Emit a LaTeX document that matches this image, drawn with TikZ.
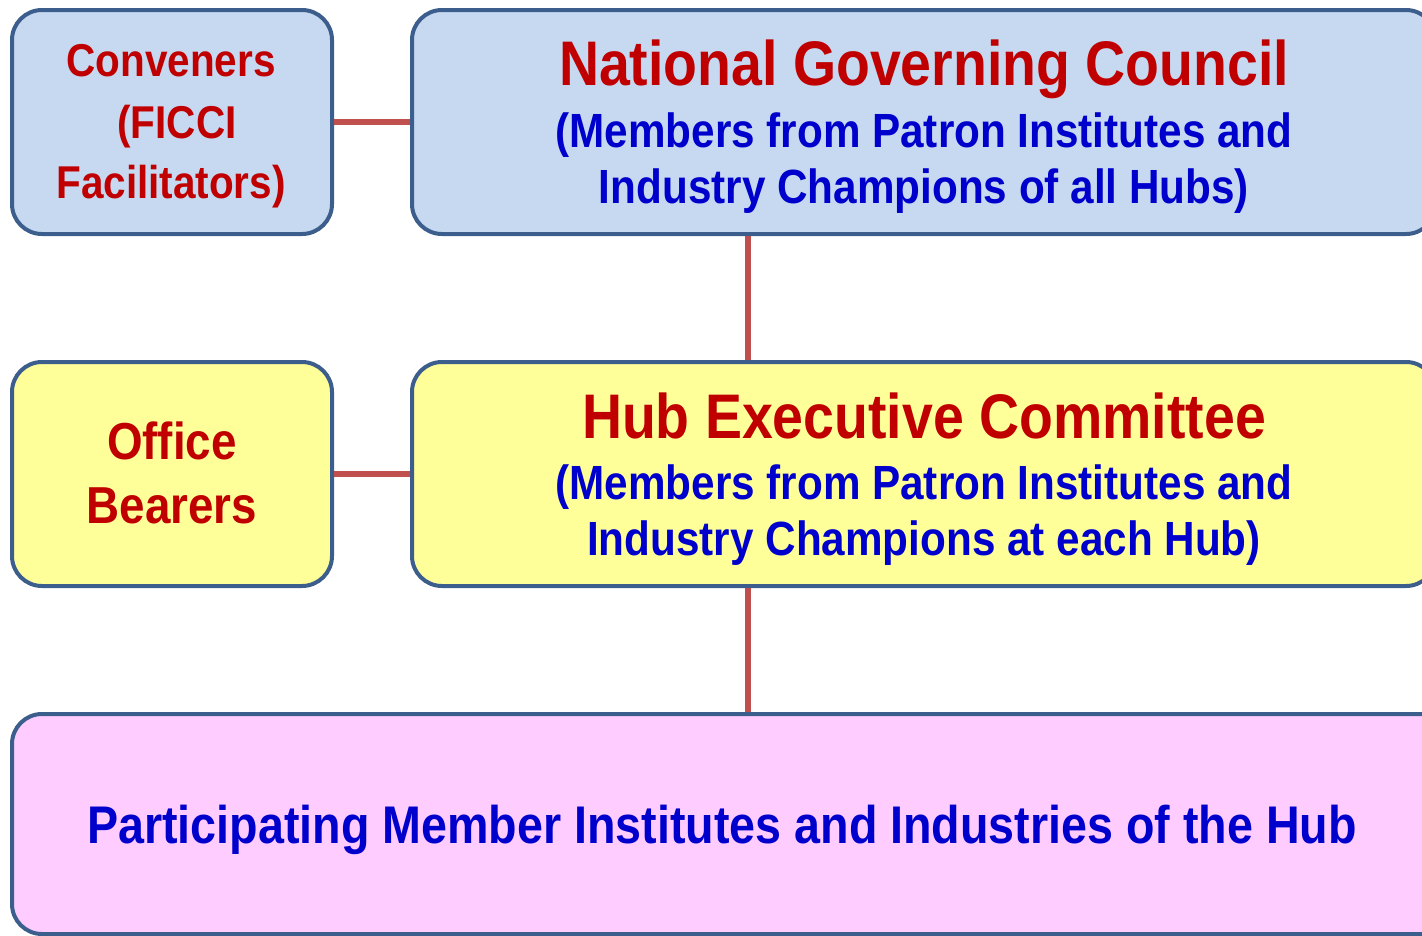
\documentclass[tikz,border=0pt]{standalone}
\usepackage{fontspec}
\setmainfont{Liberation Sans}[FakeStretch=0.88]
\definecolor{bordc}{HTML}{3B5E8C}
\definecolor{linkc}{HTML}{C0504D}
\definecolor{bluefill}{HTML}{C6D9F0}
\definecolor{yelfill}{HTML}{FFFF99}
\definecolor{pinkfill}{HTML}{FFCCFF}
\definecolor{redtxt}{HTML}{C00000}
\definecolor{bluetxt}{HTML}{0000CC}
\tikzset{
  box/.style={draw=bordc, line width=4pt, rounded corners=30pt, rectangle, inner sep=0pt},
  link/.style={draw=linkc, line width=6pt},
  redt/.style={text=redtxt, font=\bfseries, anchor=base, inner sep=0pt},
  bluet/.style={text=bluetxt, font=\bfseries, anchor=base, inner sep=0pt},
}
\begin{document}
\begin{tikzpicture}[x=1pt,y=-1pt]
\useasboundingbox (0,0) rectangle (1422,935);
\clip (0,0) rectangle (1422,935);
% boxes
\node[box, fill=bluefill, minimum width=320pt, minimum height=224pt] (conv) at (172,122) {};
\node[box, fill=bluefill, minimum width=1024pt, minimum height=224pt] (ngc) at (924,122) {};
\node[box, fill=yelfill, minimum width=320pt, minimum height=224pt] (ob) at (172,474) {};
\node[box, fill=yelfill, minimum width=1024pt, minimum height=224pt] (hec) at (924,474) {};
\node[box, fill=pinkfill, minimum width=1472pt, minimum height=220pt] (pm) at (748,824) {};
% connectors
\draw[link] (conv.east) -- (ngc.west);
\draw[link] (ob.east) -- (hec.west);
\draw[link] (ngc.south -| pm.north) -- (hec.north -| pm.north);
\draw[link] (hec.south -| pm.north) -- (pm.north);
% texts
\node[redt, font=\bfseries\fontsize{46}{50}\selectfont] (c1) at (171,76) {Conveners};
\node[redt, font=\bfseries\fontsize{46}{50}\selectfont] (c2) at (177,138) {(FICCI};
\node[redt, font=\bfseries\fontsize{46}{50}\selectfont] (c3) at (171,198) {Facilitators)};
\node[redt, font=\bfseries\fontsize{63}{66}\selectfont] (n1) at (924,85) {National Governing Council};
\node[bluet, font=\bfseries\fontsize{48}{52}\selectfont] (n2) at (924,147) {(Members from Patron Institutes and};
\node[bluet, font=\bfseries\fontsize{48}{52}\selectfont] (n3) at (924,203) {Industry Champions of all Hubs)};
\node[redt, font=\bfseries\fontsize{52}{56}\selectfont] (o1) at (172,459) {Office};
\node[redt, font=\bfseries\fontsize{52}{56}\selectfont] (o2) at (172,523) {Bearers};
\node[redt, font=\bfseries\fontsize{63}{66}\selectfont] (h1) at (924,438) {Hub Executive Committee};
\node[bluet, font=\bfseries\fontsize{48}{52}\selectfont] (h2) at (924,499) {(Members from Patron Institutes and};
\node[bluet, font=\bfseries\fontsize{48}{52}\selectfont] (h3) at (924,555) {Industry Champions at each Hub)};
\node[bluet, font=\bfseries\fontsize{53}{56}\selectfont] (p1) at (722,843) {Participating Member Institutes and Industries of the Hub};
\end{tikzpicture}
\end{document}
